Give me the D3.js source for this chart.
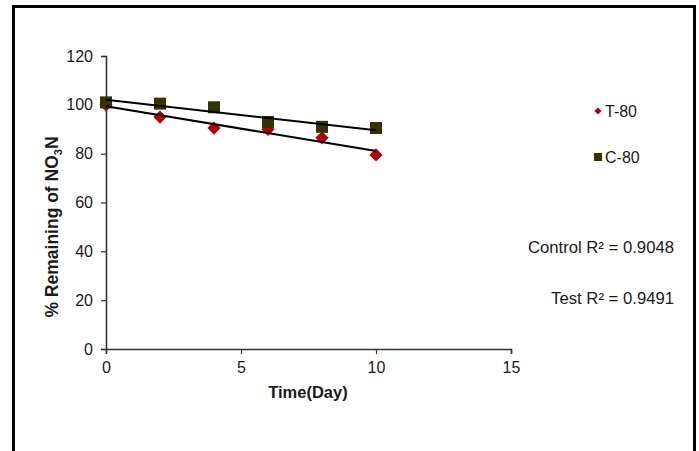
<!DOCTYPE html>
<html>
<head>
<meta charset="utf-8">
<script src="https://cdn.jsdelivr.net/npm/d3@7"></script>
<style>
  html, body { margin: 0; padding: 0; background: #fff; }
  svg { display: block; font-family: "Liberation Sans", Arial, sans-serif; }
</style>
</head>
<body>
<svg id="chart" width="699" height="451"></svg>
<script>
// Sampling days
const days = [0, 2, 4, 6, 8, 10];
// % NO3-N remaining, test (T-80) and control (C-80)
const testValues = [100, 95, 90.5, 90, 86.5, 79.5];
const controlValues = [101, 100.5, 99, 93, 91, 90.5];
// Axis ticks
const xTicks = [0, 5, 10, 15];
const yTicks = [0, 20, 40, 60, 80, 100, 120];
// Legend and fit annotations
const seriesNames = ["T-80", "C-80"];
const fitLabels = ["Control R\u00b2 = 0.9048", "Test R\u00b2 = 0.9491"];

const svg = d3.select("#chart");

// outer frame
svg.append("rect")
  .attr("x", 13.5).attr("y", 6.5)
  .attr("width", 681).attr("height", 460)
  .attr("fill", "none").attr("stroke", "#000").attr("stroke-width", 3);

const x = d3.scaleLinear().domain([0, 15]).range([106, 511]);
const y = d3.scaleLinear().domain([0, 120]).range([349, 56]);

const textColor = "#1a1a1a";

// axes
const xAxis = svg.append("g")
  .attr("transform", `translate(0,${y(0)})`)
  .call(d3.axisBottom(x).tickValues(xTicks).tickSize(5).tickPadding(8).tickFormat(d3.format("d")));
const yAxis = svg.append("g")
  .attr("transform", `translate(${x(0)},0)`)
  .call(d3.axisLeft(y).tickValues(yTicks).tickSize(5).tickPadding(8).tickFormat(d3.format("d")));
[xAxis, yAxis].forEach(g => {
  g.select(".domain").attr("stroke", "#333").attr("stroke-width", 1.6);
  g.selectAll(".tick line").attr("stroke", "#333").attr("stroke-width", 1.2);
  g.selectAll(".tick text")
    .attr("fill", textColor)
    .style("font-size", "16px")
    .style("font-family", "'Liberation Sans', Arial, sans-serif");
});

// axis titles
svg.append("text")
  .attr("x", 308).attr("y", 398)
  .attr("text-anchor", "middle")
  .attr("fill", textColor)
  .style("font-size", "16.5px").style("font-weight", "bold")
  .text("Time(Day)");

const yTitle = svg.append("text")
  .attr("transform", "translate(58,227) rotate(-90)")
  .attr("text-anchor", "middle")
  .attr("fill", textColor)
  .style("font-size", "17.5px").style("font-weight", "bold");
yTitle.append("tspan").text("% Remaining of NO");
yTitle.append("tspan").attr("dy", 4).style("font-size", "11px").text("3");
yTitle.append("tspan").attr("dy", -4).text("N");

// least-squares trend lines
function fit(xs, ys) {
  const mx = d3.mean(xs), my = d3.mean(ys);
  const sxy = d3.sum(xs, (v, i) => (v - mx) * (ys[i] - my));
  const sxx = d3.sum(xs, v => (v - mx) * (v - mx));
  const b = sxy / sxx;
  return { a: my - b * mx, b };
}

// Excel-style diamond: a square turned 45 degrees
const diamond = d3.symbol().type(d3.symbolSquare).size(88);
const square = d3.symbol().type(d3.symbolSquare).size(144);

const series = [
  { name: seriesNames[0], values: testValues, color: "#b0000a", sym: diamond, rot: 45 },
  { name: seriesNames[1], values: controlValues, color: "#333300", sym: square, rot: 0 }
];

// markers: test first, control drawn on top
series.forEach(s => {
  svg.append("g").selectAll("path")
    .data(days)
    .join("path")
    .attr("d", s.sym)
    .attr("transform", (d, i) => `translate(${x(d)},${y(s.values[i])}) rotate(${s.rot})`)
    .attr("fill", s.color);
});

// trend lines over the markers
series.forEach(s => {
  const f = fit(days, s.values);
  const x0 = d3.min(days), x1 = d3.max(days);
  svg.append("line")
    .attr("x1", x(x0)).attr("y1", y(f.a + f.b * x0))
    .attr("x2", x(x1)).attr("y2", y(f.a + f.b * x1))
    .attr("stroke", "#000").attr("stroke-width", 2);
});

// legend
const legendSyms = [
  d3.symbol().type(d3.symbolSquare).size(26),
  d3.symbol().type(d3.symbolSquare).size(64)
];
series.forEach((s, i) => {
  const ly = 111 + i * 46;
  svg.append("path")
    .attr("d", legendSyms[i])
    .attr("transform", `translate(598,${ly}) rotate(${s.rot})`)
    .attr("fill", s.color);
  svg.append("text")
    .attr("x", 605).attr("y", ly + 6)
    .attr("fill", textColor)
    .style("font-size", "16px")
    .text(s.name);
});

// R² annotations
fitLabels.forEach((t, i) => {
  svg.append("text")
    .attr("x", 674).attr("y", 253 + i * 51)
    .attr("text-anchor", "end")
    .attr("fill", textColor)
    .style("font-size", "16.7px")
    .text(t);
});
</script>
</body>
</html>
